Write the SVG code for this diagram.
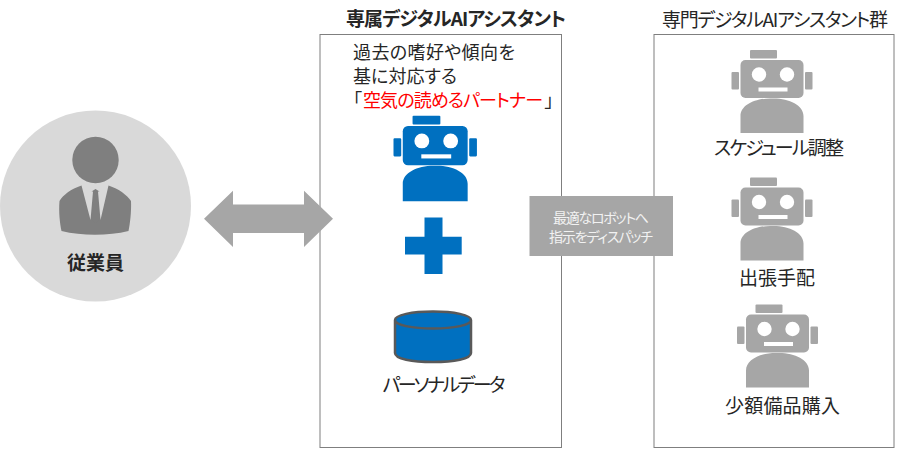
<svg xmlns="http://www.w3.org/2000/svg" xmlns:xlink="http://www.w3.org/1999/xlink" width="900" height="449" viewBox="0 0 900 449">
<style>
text{font-family:"Noto Sans CJK JP","Noto Sans",sans-serif;font-feature-settings:"palt";fill:#262626;font-size:19px}
.panel{fill:#fff;stroke:#7f7f7f;stroke-width:1}
.g{fill:#a6a6a6}
.b{fill:#0070c0}
.e{fill:#fff}
.l{font-size:18px}
.red{fill:#ff0000}
.w{fill:#f2f2f2;font-size:14px}
</style>
<defs>
<g id="robot">
<rect x="18.500" y="0" width="27" height="8.500" rx="1"/>
<rect x="9" y="10" width="63" height="38" rx="5"/>
<rect x="0" y="22" width="7.500" height="17.500" rx="1"/>
<rect x="73.500" y="22" width="7.500" height="17.500" rx="1"/>
<path d="M9 83V66C9 55 24 48 40.500 48.500C57 48 72 55 72 66V83Z"/>
<circle class="e" cx="27.500" cy="24.500" r="7.200"/>
<circle class="e" cx="55.500" cy="24.500" r="7.200"/>
<rect class="e" x="27" y="37.500" width="29" height="4"/>
</g>
</defs>
<g id="employee">
<circle cx="95.500" cy="206" r="95.500" fill="#d9d9d9"/>
<circle cx="95.500" cy="160" r="23.200" fill="#7f7f7f"/>
<path fill="#7f7f7f" d="M81.500 185.500L90.500 220L93 191.500L91.500 191.500L95.500 189L99.500 191.500L98 191.500L100.500 220L108.500 185.500C119 189 127 195 131 201C131.500 212 130 224 128.500 231C108 236 82 236 61.500 231C60 224 58.500 212 59.500 201C63 195 71 189 81.500 185.500Z"/>
<path fill="#7f7f7f" d="M93 192L95.500 189.500L98 192L97 196L99.500 220L95.500 223L91.500 220L94 196Z"/>
<text x="67" y="270" textLength="57" style="font-weight:700">従業員</text>
</g>
<g id="personal-panel">
<rect class="panel" x="320" y="34.500" width="241.500" height="413"/>
<text x="346" y="26" textLength="220" style="font-weight:700">専属デジタルAIアシスタント</text>
<text class="l" x="353" y="58.500" textLength="162">過去の嗜好や傾向を</text>
<text class="l" x="353" y="82.500" textLength="104">基に対応する</text>
<text class="l" x="353" y="106.500">「</text>
<text class="l red" x="363" y="106.500" textLength="180">空気の読めるパートナー</text>
<text class="l" x="544.500" y="106.500">」</text>
<use xlink:href="#robot" href="#robot" class="b" transform="translate(393.500 115.700) scale(1.03)"/>
<path class="b" d="M424.500 217.500H442.500V236.700H461.700V254.500H442.500V274H424.500V254.500H405V236.700H424.500Z"/>
<path class="b" stroke="#595959" stroke-width="2.500" d="M395 320V353C395 359 412 362 433 362C454 362 471 359 471 353V320C471 315 454 311.500 433 311.500C412 311.500 395 315 395 320C395 325 412 328.500 433 328.500C454 328.500 471 325 471 320"/>
<text x="382.500" y="392" textLength="123">パーソナルデータ</text>
</g>
<g id="specialist-panel">
<rect class="panel" x="654" y="34.500" width="240" height="413"/>
<text x="662" y="27" textLength="226">専門デジタルAIアシスタント群</text>
<g id="robot-schedule">
<use xlink:href="#robot" href="#robot" class="g" transform="translate(731.500 50)"/>
<text x="714" y="155" textLength="130">スケジュール調整</text>
</g>
<g id="robot-travel">
<use xlink:href="#robot" href="#robot" class="g" transform="translate(731.500 177.500)"/>
<text x="739" y="285">出張手配</text>
</g>
<g id="robot-purchase">
<use xlink:href="#robot" href="#robot" class="g" transform="translate(737 304.500)"/>
<text x="725" y="413" textLength="115">少額備品購入</text>
</g>
</g>
<g id="connectors">
<path class="g" d="M204 218.700L233 190.700V204.500H304V190.700L333 218.700L304 247V233H233V247Z"/>
</g>
<g id="dispatch">
<rect class="g" x="529.500" y="196" width="143.500" height="60"/>
<text class="w" x="553" y="223" textLength="96">最適なロボットへ</text>
<text class="w" x="549" y="241.500" textLength="104">指示をディスパッチ</text>
</g>
</svg>
